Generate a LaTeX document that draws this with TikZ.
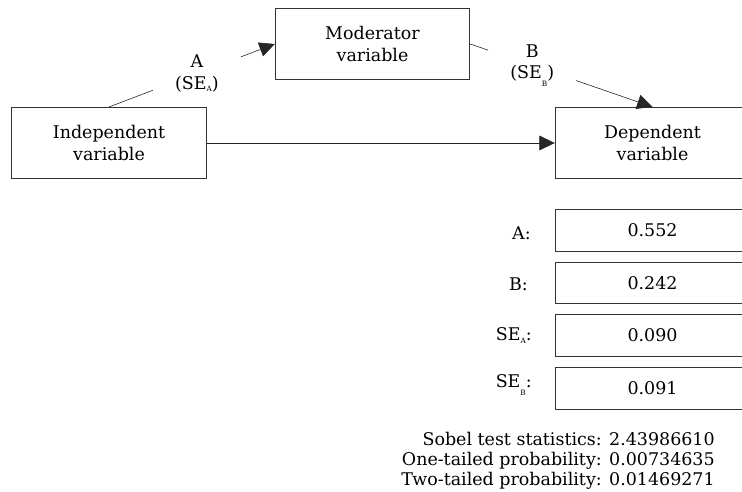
\documentclass[tikz,border=0pt]{standalone}
\usepackage{fontspec}
\setmainfont{DejaVu Serif}
\usetikzlibrary{arrows.meta,calc}

\tikzset{
  varbox/.style={draw=black!80, line width=0.6pt, minimum width=146pt,
    minimum height=53.5pt, align=center, inner sep=0pt},
  valbox/.style={draw=black!80, line width=0.6pt, minimum width=146pt,
    minimum height=31pt, inner sep=0pt},
  coef/.style={inner sep=0pt, outer sep=0pt, minimum width=66pt,
    minimum height=30pt, align=center},
  rowlab/.style={anchor=east, inner sep=0pt},
  stat/.style={anchor=base east, inner sep=0pt},
  link/.style={draw=black!85, line width=0.45pt},
  arr/.style={link, -{Triangle[length=11.5pt,width=11pt]}},
}
\newcommand{\seA}{SE\raisebox{-0.25ex}{\fontsize{5.5}{6}\selectfont A}}
\newcommand{\seB}{SE\raisebox{-0.8ex}{\fontsize{5.5}{6}\selectfont B}}

\begin{document}
\begin{tikzpicture}[x=0.75pt, y=-0.75pt, font=\fontsize{13.1}{16.2}\selectfont]
  \useasboundingbox (0,0) rectangle (742,492);
  % the three variables
  \node[varbox] (indep) at (109,143) {Independent\\variable};
  \node[varbox] (mod) at (372.5,44) {Moderator\\variable};
  \node[varbox] (dep) at (652.5,143) {Dependent\\variable};
  % path coefficients sit in gaps of the lines
  \node[coef] (labA) at ($(indep.north)!0.53!(mod.west)$) {A\\(\seA)};
  \node[coef] (labB) at ($(mod.east)!0.34!(dep.north)$) {B\\(\seB)};
  \draw[link] (indep.north) -- (labA);
  \draw[arr] (labA) -- (mod.west);
  \draw[link] (mod.east) -- (labB);
  \draw[arr] (labB) -- (dep.north);
  \draw[arr] (indep) -- (dep);
  % input values
  \node[valbox] (valA) at (652.5,230.5) {0.552};
  \node[valbox] (valB) at (652.5,283) {0.242};
  \node[valbox] (valSA) at (652.5,335.5) {0.090};
  \node[valbox] (valSB) at (652.5,388.5) {0.091};
  \node[rowlab] (labvA) at (531,233) {A:};
  \node[rowlab] (labvB) at (528,284.5) {B:};
  \node[rowlab] (labvSA) at (532,335.5) {\seA:};
  \node[rowlab] (labvSB) at (532,385) {\seB:};
  % results
  \node[stat] (sobel) at (715,445) {Sobel test statistics: 2.43986610};
  \node[stat] (onetail) at (715,465) {One-tailed probability: 0.00734635};
  \node[stat] (twotail) at (715,485) {Two-tailed probability: 0.01469271};
\end{tikzpicture}
\end{document}
